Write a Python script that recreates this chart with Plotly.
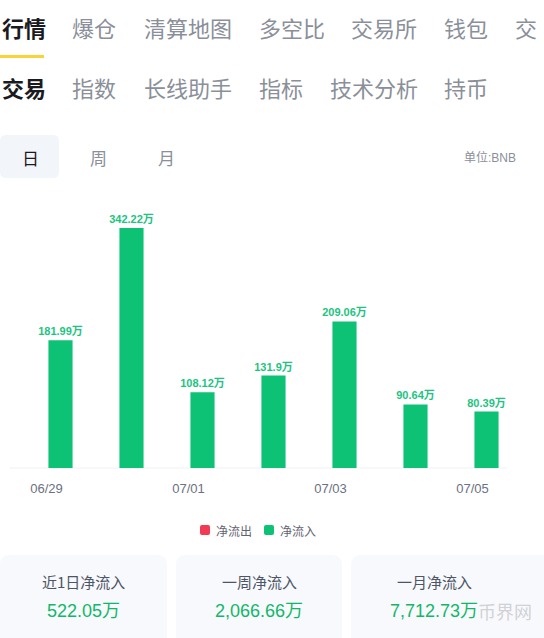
import plotly.graph_objects as go

# ---- data ----
dates = ["06/29", "06/30", "07/01", "07/02", "07/03", "07/04", "07/05"]
net_inflow = [181.99, 342.22, 108.12, 131.9, 209.06, 90.64, 80.39]
tick_dates = ["06/29", "07/01", "07/03", "07/05"]
tabs_row1 = ["行情", "爆仓", "清算地图", "多空比", "交易所", "钱包", "交"]
tabs_row2 = ["交易", "指数", "长线助手", "指标", "技术分析", "持币"]
periods = ["日", "周", "月"]
legend_names = ["净流出", "净流入"]
card_titles = ["近1日净流入", "一周净流入", "一月净流入"]
card_values = ["522.05万", "2,066.66万", "7,712.73万"]

W, H = 544, 638
L, R, T, B = 25, 22, 190, 170
PW, PH = W - L - R, H - T - B

GREEN = "#0DC275"
RED = "#F23A52"
GRAY = "#8A8F99"
DARK = "#1B1B1F"
CJK = "Noto Sans CJK SC"
NUM = "Liberation Sans, Noto Sans CJK SC"


def px(x):
    return (x - L) / PW


def py(y):
    return (H - B - y) / PH


def rrect(x0, y0, x1, y1, r):
    return (f"M {px(x0 + r)},{py(y0)} L {px(x1 - r)},{py(y0)} "
            f"Q {px(x1)},{py(y0)} {px(x1)},{py(y0 + r)} "
            f"L {px(x1)},{py(y1 - r)} Q {px(x1)},{py(y1)} {px(x1 - r)},{py(y1)} "
            f"L {px(x0 + r)},{py(y1)} Q {px(x0)},{py(y1)} {px(x0)},{py(y1 - r)} "
            f"L {px(x0)},{py(y0 + r)} Q {px(x0)},{py(y0)} {px(x0 + r)},{py(y0)} Z")


def note(x, y, text, size, color, family=CJK, anchor="left"):
    return dict(x=px(x), y=py(y), xref="paper", yref="paper", text=text,
                xanchor=anchor, yanchor="middle", showarrow=False,
                font=dict(family=family, size=size, color=color))


fig = go.Figure()
fig.add_trace(go.Bar(x=[None], y=[None], name=legend_names[0], marker_color=RED, showlegend=False))
fig.add_trace(go.Bar(
    x=dates, y=net_inflow, name=legend_names[1], marker_color=GREEN,
    marker_line_width=0, showlegend=False,
    text=[f"{v}万" for v in net_inflow], textposition="outside",
    constraintext="none",
    textfont=dict(color="#21C47F", size=11, family=NUM, weight="bold"),
    cliponaxis=False,
))

shapes = []
annotations = []

# header tabs
row1_x = [0, 70, 142, 257, 349, 442, 513]
for i, (t, x) in enumerate(zip(tabs_row1, row1_x)):
    annotations.append(note(x, 27, ("<b>%s</b>" % t) if i == 0 else t, 22, DARK if i == 0 else GRAY))
row2_x = [0, 70, 142, 257, 328, 442]
for i, (t, x) in enumerate(zip(tabs_row2, row2_x)):
    annotations.append(note(x, 87, ("<b>%s</b>" % t) if i == 0 else t, 22, DARK if i == 0 else GRAY))
shapes.append(dict(type="rect", xref="paper", yref="paper", x0=px(0), x1=px(44),
                   y0=py(58), y1=py(55), fillcolor="#F8D33A", line_width=0, layer="above"))

# period buttons
shapes.append(dict(type="path", xref="paper", yref="paper", path=rrect(0, 135, 59, 178, 6),
                   fillcolor="#F2F5FA", line_width=0, layer="below"))
for t, x, c in zip(periods, [30, 98, 166], [DARK, GRAY, GRAY]):
    annotations.append(note(x, 157, t, 17, c, anchor="center"))
annotations.append(note(518, 157, "单位:BNB", 12, GRAY, family=NUM, anchor="right"))

# baseline
shapes.append(dict(type="line", xref="paper", yref="paper", x0=px(10), x1=px(507),
                   y0=0, y1=0, line=dict(color="#F0F1F4", width=1), layer="below"))

# legend (drawn manually to match spacing)
for name, color, x0 in zip(legend_names, [RED, GREEN], [200, 264]):
    shapes.append(dict(type="path", xref="paper", yref="paper", path=rrect(x0, 525, x0 + 10, 535, 2),
                       fillcolor=color, line_width=0, layer="above"))
    annotations.append(note(x0 + 14, 530, name, 12, "#5F6470"))

# cards
cards = [(0, 167, 83), (176, 342, 259), (351, 560, 434)]
for (x0, x1, cx), title, val in zip(cards, card_titles, card_values):
    shapes.append(dict(type="path", xref="paper", yref="paper", path=rrect(x0, 555, x1, 660, 10),
                       fillcolor="#F7F9FC", line_width=0, layer="below"))
    annotations.append(note(cx, 581, title, 15, "#4E5566", anchor="center"))
    annotations.append(note(cx, 611, val, 18, "#12B76A", family=NUM, anchor="center"))

# faint watermark
annotations.append(note(505, 611, "币界网", 18, "rgba(160,160,160,0.45)", anchor="center"))

fig.update_layout(
    width=W, height=H,
    margin=dict(l=L, r=R, t=T, b=B, autoexpand=False),
    paper_bgcolor="white", plot_bgcolor="white",
    bargap=0.66,
    showlegend=False,
    xaxis=dict(type="category", categoryorder="array", categoryarray=dates,
               tickvals=tick_dates, ticktext=tick_dates, ticks="outside", ticklen=8,
               tickcolor="rgba(0,0,0,0)", showline=False, showgrid=False, zeroline=False,
               ticklabelshift=-14,
               tickfont=dict(family=NUM, size=13, color="#6B7180")),
    yaxis=dict(range=[0, max(net_inflow) * PH / 240], visible=False, showgrid=False),
    shapes=shapes, annotations=annotations,
)

fig.write_html("out.html", config={"displayModeBar": False},
               post_script="document.body.style.margin='0';document.body.style.overflow='hidden';")
